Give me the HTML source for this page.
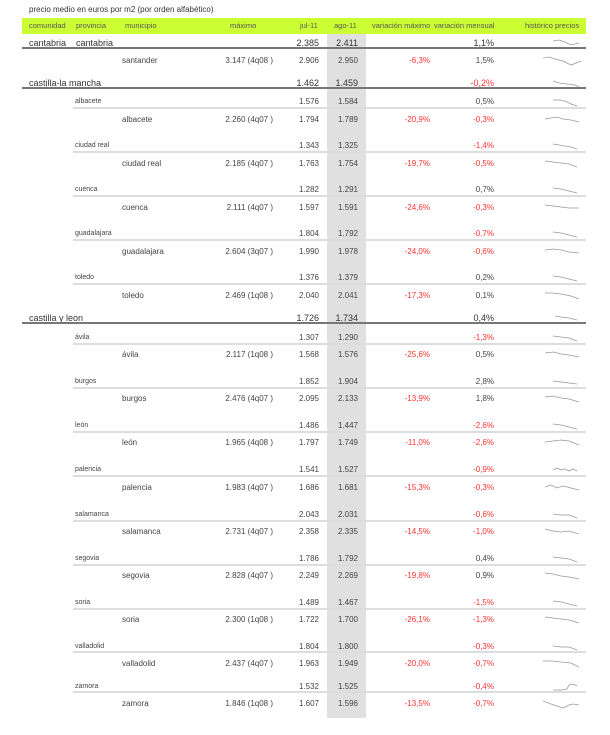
<!DOCTYPE html>
<html><head><meta charset="utf-8"><style>
body{margin:0;width:610px;height:735px;background:#fff;position:relative;overflow:hidden;font-family:"Liberation Sans",sans-serif;font-size:8px;color:#444}
.t{position:absolute;left:29px;top:5px;font-size:8px;color:#333}
.hd{position:absolute;left:22px;top:18px;width:564px;height:16px;background:#ccff33}
.hd span{position:absolute;top:3px;font-size:7.5px;color:#555}
.g{position:absolute;left:327px;top:34px;width:39px;height:684px;background:#e0e0e0}
.r{position:absolute;left:0;width:610px;height:10px;line-height:10px}
.r span{position:absolute;top:0;white-space:nowrap}
.c{font-size:9px;color:#333}
.c .n{left:29px}.c .n2{left:76px}
.p .n{left:75px;font-size:7px}
.m .n{left:122px}
.mx{right:337px}.j{right:291px}.a{right:252px}.vx{right:180px}.vm{right:116px}
.red{color:#ff3333}
.l{position:absolute;height:1px}
.dk{left:22px;width:564px;background:#777;height:2px}
.lt{left:73px;width:513px;background:#ddd;height:2px}
svg{position:absolute;left:543px}
svg polyline{fill:none;stroke:#999;stroke-width:0.8}
</style></head><body>
<div class="t">precio medio en euros por m2 (por orden alfabético)</div>
<div class="hd"><span style="left:7px">comunidad</span><span style="left:54px">provincia</span><span style="left:103px">municipio</span><span style="left:208px">máximo</span><span style="left:278px">jul-11</span><span style="left:312px">ago-11</span><span style="left:350px">variación máximo</span><span style="left:412px">variación mensual</span><span style="left:503px">histórico precios</span></div>
<div class="g"></div>

<div class="r c" style="top:38px"><span class="n">cantabria</span><span class="n2">cantabria</span><span class="j">2.385</span><span class="a">2.411</span><span class="vm">1,1%</span></div>
<div class="l dk" style="top:47px"></div>
<div class="r m" style="top:56px"><span class="n">santander</span><span class="mx">3.147 (4q08 )</span><span class="j">2.906</span><span class="a">2.950</span><span class="vx red">-6,3%</span><span class="vm">1,5%</span></div>
<div class="r c" style="top:78px"><span class="n">castilla-la mancha</span><span class="j">1.462</span><span class="a">1.459</span><span class="vm red">-0,2%</span></div>
<div class="l dk" style="top:87px"></div>

<div class="r p" style="top:97px"><span class="n">albacete</span><span class="j">1.576</span><span class="a">1.584</span><span class="vm">0,5%</span></div>
<div class="l lt" style="top:107px"></div>
<div class="r m" style="top:115px"><span class="n">albacete</span><span class="mx">2.260 (4q07 )</span><span class="j">1.794</span><span class="a">1.789</span><span class="vx red">-20,9%</span><span class="vm red">-0,3%</span></div>
<div class="r p" style="top:141px"><span class="n">ciudad real</span><span class="j">1.343</span><span class="a">1.325</span><span class="vm red">-1,4%</span></div>
<div class="l lt" style="top:151px"></div>
<div class="r m" style="top:159px"><span class="n">ciudad real</span><span class="mx">2.185 (4q07 )</span><span class="j">1.763</span><span class="a">1.754</span><span class="vx red">-19,7%</span><span class="vm red">-0,5%</span></div>
<div class="r p" style="top:185px"><span class="n">cuenca</span><span class="j">1.282</span><span class="a">1.291</span><span class="vm">0,7%</span></div>
<div class="l lt" style="top:195px"></div>
<div class="r m" style="top:203px"><span class="n">cuenca</span><span class="mx">2.111 (4q07 )</span><span class="j">1.597</span><span class="a">1.591</span><span class="vx red">-24,6%</span><span class="vm red">-0,3%</span></div>
<div class="r p" style="top:229px"><span class="n">guadalajara</span><span class="j">1.804</span><span class="a">1.792</span><span class="vm red">-0,7%</span></div>
<div class="l lt" style="top:239px"></div>
<div class="r m" style="top:247px"><span class="n">guadalajara</span><span class="mx">2.604 (3q07 )</span><span class="j">1.990</span><span class="a">1.978</span><span class="vx red">-24,0%</span><span class="vm red">-0,6%</span></div>
<div class="r p" style="top:273px"><span class="n">toledo</span><span class="j">1.376</span><span class="a">1.379</span><span class="vm">0,2%</span></div>
<div class="l lt" style="top:283px"></div>
<div class="r m" style="top:291px"><span class="n">toledo</span><span class="mx">2.469 (1q08 )</span><span class="j">2.040</span><span class="a">2.041</span><span class="vx red">-17,3%</span><span class="vm">0,1%</span></div>

<div class="r c" style="top:313px"><span class="n">castilla y leon</span><span class="j">1.726</span><span class="a">1.734</span><span class="vm">0,4%</span></div>
<div class="l dk" style="top:322px"></div>

<div class="r p" style="top:333px"><span class="n">ávila</span><span class="j">1.307</span><span class="a">1.290</span><span class="vm red">-1,3%</span></div>
<div class="l lt" style="top:343px"></div>
<div class="r m" style="top:350px"><span class="n">ávila</span><span class="mx">2.117 (1q08 )</span><span class="j">1.568</span><span class="a">1.576</span><span class="vx red">-25,6%</span><span class="vm">0,5%</span></div>
<div class="r p" style="top:377px"><span class="n">burgos</span><span class="j">1.852</span><span class="a">1.904</span><span class="vm">2,8%</span></div>
<div class="l lt" style="top:387px"></div>
<div class="r m" style="top:394px"><span class="n">burgos</span><span class="mx">2.476 (4q07 )</span><span class="j">2.095</span><span class="a">2.133</span><span class="vx red">-13,9%</span><span class="vm">1,8%</span></div>
<div class="r p" style="top:421px"><span class="n">león</span><span class="j">1.486</span><span class="a">1.447</span><span class="vm red">-2,6%</span></div>
<div class="l lt" style="top:431px"></div>
<div class="r m" style="top:438px"><span class="n">león</span><span class="mx">1.965 (4q08 )</span><span class="j">1.797</span><span class="a">1.749</span><span class="vx red">-11,0%</span><span class="vm red">-2,6%</span></div>
<div class="r p" style="top:465px"><span class="n">palencia</span><span class="j">1.541</span><span class="a">1.527</span><span class="vm red">-0,9%</span></div>
<div class="l lt" style="top:475px"></div>
<div class="r m" style="top:483px"><span class="n">palencia</span><span class="mx">1.983 (4q07 )</span><span class="j">1.686</span><span class="a">1.681</span><span class="vx red">-15,3%</span><span class="vm red">-0,3%</span></div>
<div class="r p" style="top:510px"><span class="n">salamanca</span><span class="j">2.043</span><span class="a">2.031</span><span class="vm red">-0,6%</span></div>
<div class="l lt" style="top:520px"></div>
<div class="r m" style="top:527px"><span class="n">salamanca</span><span class="mx">2.731 (4q07 )</span><span class="j">2.358</span><span class="a">2.335</span><span class="vx red">-14,5%</span><span class="vm red">-1,0%</span></div>
<div class="r p" style="top:554px"><span class="n">segovia</span><span class="j">1.786</span><span class="a">1.792</span><span class="vm">0,4%</span></div>
<div class="l lt" style="top:564px"></div>
<div class="r m" style="top:571px"><span class="n">segovia</span><span class="mx">2.828 (4q07 )</span><span class="j">2.249</span><span class="a">2.269</span><span class="vx red">-19,8%</span><span class="vm">0,9%</span></div>
<div class="r p" style="top:598px"><span class="n">soria</span><span class="j">1.489</span><span class="a">1.467</span><span class="vm red">-1,5%</span></div>
<div class="l lt" style="top:608px"></div>
<div class="r m" style="top:615px"><span class="n">soria</span><span class="mx">2.300 (1q08 )</span><span class="j">1.722</span><span class="a">1.700</span><span class="vx red">-26,1%</span><span class="vm red">-1,3%</span></div>
<div class="r p" style="top:642px"><span class="n">valladolid</span><span class="j">1.804</span><span class="a">1.800</span><span class="vm red">-0,3%</span></div>
<div class="l lt" style="top:651px"></div>
<div class="r m" style="top:659px"><span class="n">valladolid</span><span class="mx">2.437 (4q07 )</span><span class="j">1.963</span><span class="a">1.949</span><span class="vx red">-20,0%</span><span class="vm red">-0,7%</span></div>
<div class="r p" style="top:682px"><span class="n">zamora</span><span class="j">1.532</span><span class="a">1.525</span><span class="vm red">-0,4%</span></div>
<div class="l lt" style="top:691px"></div>
<div class="r m" style="top:699px"><span class="n">zamora</span><span class="mx">1.846 (1q08 )</span><span class="j">1.607</span><span class="a">1.596</span><span class="vx red">-13,5%</span><span class="vm red">-0,7%</span></div>

<svg style="top:36px" width="40" height="12"><polyline points="10,5 16,4 22,6 28,9 32,8 36,7"/></svg>
<svg style="top:54px" width="40" height="14"><polyline points="0,4 6,3 12,5 20,7 28,11 38,7"/></svg>
<svg style="top:77px" width="40" height="12"><polyline points="10,4 16,6 24,7 32,8 36,10"/></svg>
<svg style="top:96px" width="40" height="12"><polyline points="10,4 16,4 22,5 28,8 34,10"/></svg>
<svg style="top:114px" width="40" height="12"><polyline points="2,5 8,4 14,3 20,5 28,6 36,8"/></svg>
<svg style="top:140px" width="40" height="12"><polyline points="10,4 16,5 22,6 28,7 34,9"/></svg>
<svg style="top:158px" width="40" height="12"><polyline points="2,3 10,4 18,5 26,6 34,9"/></svg>
<svg style="top:184px" width="40" height="12"><polyline points="10,4 18,5 26,7 34,9"/></svg>
<svg style="top:202px" width="40" height="12"><polyline points="2,3 10,4 18,5 26,6 36,6"/></svg>
<svg style="top:228px" width="40" height="12"><polyline points="10,4 18,5 26,7 34,9"/></svg>
<svg style="top:246px" width="40" height="12"><polyline points="2,4 10,3 18,4 26,6 36,7"/></svg>
<svg style="top:272px" width="40" height="12"><polyline points="10,4 18,5 26,7 34,9"/></svg>
<svg style="top:290px" width="40" height="12"><polyline points="2,3 10,3 18,4 28,6 36,9"/></svg>
<svg style="top:312px" width="40" height="12"><polyline points="12,4 18,5 26,6 34,8"/></svg>
<svg style="top:332px" width="40" height="12"><polyline points="10,4 18,5 26,6 34,9"/></svg>
<svg style="top:349px" width="40" height="12"><polyline points="2,4 10,3 18,5 26,6 36,8"/></svg>
<svg style="top:376px" width="40" height="12"><polyline points="10,5 18,6 26,7 34,8"/></svg>
<svg style="top:393px" width="40" height="12"><polyline points="2,4 10,3 18,5 26,6 36,9"/></svg>
<svg style="top:420px" width="40" height="12"><polyline points="10,4 18,5 26,7 34,9"/></svg>
<svg style="top:437px" width="40" height="12"><polyline points="2,5 10,4 18,3 26,4 36,8"/></svg>
<svg style="top:464px" width="40" height="12"><polyline points="10,6 14,4 18,6 22,5 26,7 30,5 34,7"/></svg>
<svg style="top:482px" width="40" height="12"><polyline points="2,5 8,3 14,6 20,4 28,6 36,8"/></svg>
<svg style="top:509px" width="40" height="12"><polyline points="10,5 18,6 26,6 34,9"/></svg>
<svg style="top:526px" width="40" height="12"><polyline points="2,3 10,5 18,6 26,5 36,8"/></svg>
<svg style="top:553px" width="40" height="12"><polyline points="10,4 18,5 26,6 34,9"/></svg>
<svg style="top:570px" width="40" height="12"><polyline points="2,3 10,4 18,6 26,7 36,9"/></svg>
<svg style="top:597px" width="40" height="12"><polyline points="10,4 18,5 26,7 34,9"/></svg>
<svg style="top:614px" width="40" height="12"><polyline points="2,3 10,4 18,5 26,6 36,9"/></svg>
<svg style="top:641px" width="40" height="12"><polyline points="10,5 18,6 26,6 34,9"/></svg>
<svg style="top:658px" width="40" height="12"><polyline points="0,3 10,3 18,4 28,5 36,9"/></svg>
<svg style="top:681px" width="40" height="12"><polyline points="10,9 18,9 24,8 26,4 30,3 34,5"/></svg>
<svg style="top:698px" width="40" height="14"><polyline points="0,3 8,6 14,8 20,10 26,7 30,6 36,7"/></svg>
</body></html>
